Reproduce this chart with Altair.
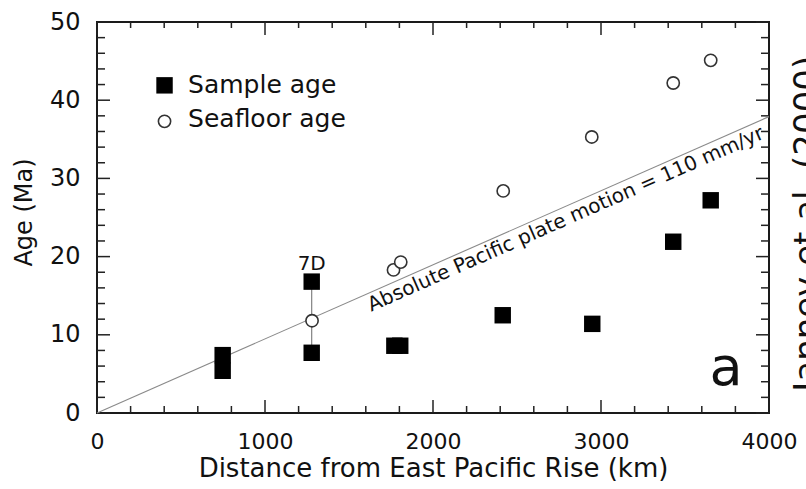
import altair as alt
import pandas as pd

# ---- data ----
sample_dist = [748, 748, 1278, 1278, 1770, 1805, 2415, 2948, 3430, 3653]
sample_age = [7.4, 5.4, 16.8, 7.7, 8.6, 8.6, 12.5, 11.4, 21.9, 27.2]

seafloor_dist = [1280, 1765, 1808, 2418, 2945, 3430, 3653]
seafloor_age = [11.8, 18.3, 19.3, 28.4, 35.3, 42.2, 45.1]

motion_dist = [0, 4000]
motion_age = [0, 37.9]

bar7d_dist = [1278, 1278]
bar7d_age = [7.7, 16.8]

x_major = [0, 1000, 2000, 3000, 4000]
x_minor = [200, 400, 600, 800, 1200, 1400, 1600, 1800, 2200, 2400, 2600, 2800,
           3200, 3400, 3600, 3800]
y_major = [0, 10, 20, 30, 40, 50]
y_minor = [2, 4, 6, 8, 12, 14, 16, 18, 22, 24, 26, 28, 32, 34, 36, 38, 42, 44, 46, 48]

legend_labels = ["Sample age", "Seafloor age"]

FONT = "DejaVu Sans"
INK = "#111111"
W, H = 672, 391

xs = alt.Scale(domain=[0, 4000], nice=False, zero=False)
ys = alt.Scale(domain=[0, 50], nice=False, zero=False)

x_axis = alt.Axis(values=x_major, format="d", ticks=False, domain=False, grid=False,
                  labelFont=FONT, labelFontSize=22, labelColor=INK, labelPadding=18,
                  labelFlush=False,
                  title="Distance from East Pacific Rise (km)", titleFont=FONT,
                  titleFontSize=26, titleFontWeight="normal", titleColor=INK,
                  titleY=63, titleBaseline="alphabetic")
y_axis = alt.Axis(values=y_major, format="d", ticks=False, domain=False, grid=False,
                  labelFont=FONT, labelFontSize=24, labelColor=INK, labelPadding=17,
                  title="Age (Ma)", titleFont=FONT, titleFontSize=24,
                  titleFontWeight="normal", titleColor=INK, titleAngle=270,
                  titleX=-66, titleY=190, titleBaseline="alphabetic", titleAlign="center")


def X(f):
    return alt.X(f, type="quantitative", scale=xs, axis=x_axis)


def Y(f):
    return alt.Y(f, type="quantitative", scale=ys, axis=y_axis)


# ---- ticks (inside, on all four sides) ----
xM = pd.DataFrame({"v": x_major})
xm = pd.DataFrame({"v": x_minor})
yM = pd.DataFrame({"v": y_major})
ym = pd.DataFrame({"v": y_minor})
tick_style = dict(color="#222222", strokeWidth=1.5)

ticks = [
    alt.Chart(xM).mark_rule(**tick_style).encode(x=X("v"), y=alt.value(H), y2=alt.value(H - 13)),
    alt.Chart(xm).mark_rule(**tick_style).encode(x=X("v"), y=alt.value(H), y2=alt.value(H - 7)),
    alt.Chart(xM).mark_rule(**tick_style).encode(x=X("v"), y=alt.value(0), y2=alt.value(13)),
    alt.Chart(xm).mark_rule(**tick_style).encode(x=X("v"), y=alt.value(0), y2=alt.value(6)),
    alt.Chart(yM).mark_rule(**tick_style).encode(y=Y("v"), x=alt.value(0), x2=alt.value(13)),
    alt.Chart(ym).mark_rule(**tick_style).encode(y=Y("v"), x=alt.value(0), x2=alt.value(8)),
    alt.Chart(yM).mark_rule(**tick_style).encode(y=Y("v"), x=alt.value(W), x2=alt.value(W - 13)),
    alt.Chart(ym).mark_rule(**tick_style).encode(y=Y("v"), x=alt.value(W), x2=alt.value(W - 8)),
]

# ---- plate motion line and 7D bar ----
motion = alt.Chart(pd.DataFrame({"d": motion_dist, "a": motion_age})).mark_line(
    color="#8a8a8a", strokeWidth=1.1).encode(x=X("d"), y=Y("a"))
bar7d = alt.Chart(pd.DataFrame({"d": bar7d_dist, "a": bar7d_age})).mark_line(
    color="#777777", strokeWidth=1.1).encode(x=X("d"), y=Y("a"))

# ---- points ----
squares = alt.Chart(pd.DataFrame({"d": sample_dist, "a": sample_age})).mark_point(
    shape="square", filled=True, size=270, color="#000000", opacity=1).encode(
    x=X("d"), y=Y("a"))
circles = alt.Chart(pd.DataFrame({"d": seafloor_dist, "a": seafloor_age})).mark_point(
    shape="circle", size=150, fill="white", stroke="#333333", strokeWidth=1.6,
    fillOpacity=1, strokeOpacity=1).encode(x=X("d"), y=Y("a"))

# ---- legend (inside plot, top-left) ----
leg_sq = alt.Chart(pd.DataFrame({"d": [402], "a": [41.9]})).mark_point(
    shape="square", filled=True, size=270, color="#000000", opacity=1).encode(
    x=X("d"), y=Y("a"))
leg_ci = alt.Chart(pd.DataFrame({"d": [402], "a": [37.3]})).mark_point(
    shape="circle", size=150, fill="white", stroke="#333333", strokeWidth=1.6,
    fillOpacity=1, strokeOpacity=1).encode(x=X("d"), y=Y("a"))
leg_txt = alt.Chart(pd.DataFrame({"d": [542, 542], "a": [40.9, 36.6],
                                  "t": legend_labels})).mark_text(
    font=FONT, fontSize=25, color=INK, align="left", baseline="alphabetic").encode(
    x=X("d"), y=Y("a"), text="t:N")

# ---- annotations ----
lbl_7d = alt.Chart(pd.DataFrame({"d": [1278], "a": [18.3], "t": ["7D"]})).mark_text(
    font=FONT, fontSize=20, color=INK, align="center", baseline="alphabetic").encode(
    x=X("d"), y=Y("a"), text="t:N")
lbl_a = alt.Chart(pd.DataFrame({"d": [3744], "a": [3.6], "t": ["a"]})).mark_text(
    font=FONT, fontSize=54, color=INK, align="center", baseline="alphabetic").encode(
    x=X("d"), y=Y("a"), text="t:N")
lbl_motion = alt.Chart(pd.DataFrame({"d": [2762], "a": [2762 * 37.9 / 4000],
                                     "t": ["Absolute Pacific plate motion = 110 mm/yr"]})).mark_text(
    font=FONT, fontSize=20, color=INK, align="center", baseline="top", angle=336.2,
    dy=2).encode(x=X("d"), y=Y("a"), text="t:N")
lbl_cite = alt.Chart(pd.DataFrame({"d": [4131], "a": [24.2],
                                   "t": ["Janney et al. (2000)"]})).mark_text(
    font=FONT, fontSize=34, color=INK, align="center", baseline="top", angle=270).encode(
    x=X("d"), y=Y("a"), text="t:N")

chart = alt.layer(
    *ticks, motion, bar7d, squares, circles, leg_sq, leg_ci, leg_txt,
    lbl_7d, lbl_a, lbl_motion, lbl_cite
).properties(
    width=W, height=H,
    autosize=alt.AutoSizeParams(type="none"),
    padding={"left": 97, "top": 22, "right": 37, "bottom": 76},
    background="white",
).configure_view(stroke="#1a1a1a", strokeWidth=2)

chart.save("out.html", embed_options={"renderer": "svg", "actions": False})
